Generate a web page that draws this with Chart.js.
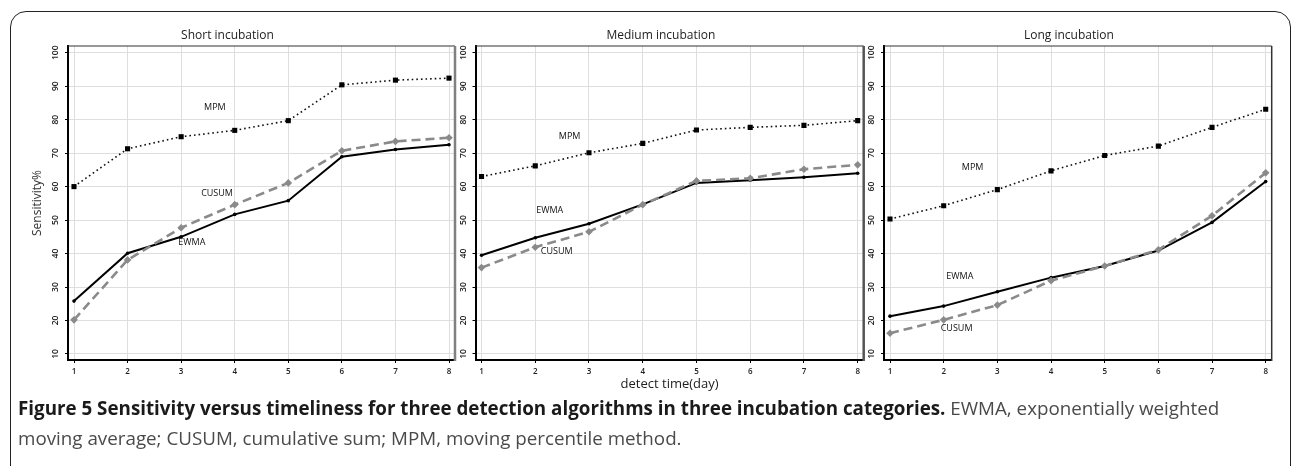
<!DOCTYPE html>
<html><head><meta charset="utf-8">
<script src="https://cdn.jsdelivr.net/npm/chart.js@4.4.1/dist/chart.umd.min.js"></script>
<style>
html,body{margin:0;padding:0;background:#fff;width:1292px;height:466px;overflow:hidden;position:relative;font-family:"Open Sans",sans-serif;}
#frame{position:absolute;left:10px;top:11px;width:1281px;height:520px;border:1.5px solid #222;border-radius:16px;box-sizing:border-box;}
canvas{position:absolute;top:0;}
#caption{position:absolute;left:18px;top:393px;font-size:18.8px;line-height:30px;color:#4a4a4a;white-space:nowrap;}
#caption b{color:#1a1a1a;font-weight:700;}
</style></head><body>
<div id="frame"></div>
<canvas id="c1" width="460" height="400" style="left:0px"></canvas>
<canvas id="c2" width="410" height="400" style="left:458px"></canvas>
<canvas id="c3" width="412" height="400" style="left:866px"></canvas>
<div id="caption"><b>Figure 5 Sensitivity versus timeliness for three detection algorithms in three incubation categories.</b> EWMA, exponentially weighted<br>moving average; CUSUM, cumulative sum; MPM, moving percentile method.</div>
<script>
// ---- data ----
const days = [1, 2, 3, 4, 5, 6, 7, 8];
const yTickValues = [10, 20, 30, 40, 50, 60, 70, 80, 90, 100];
const panelTitles = ['Short incubation', 'Medium incubation', 'Long incubation'];
const seriesNames = ['MPM', 'CUSUM', 'EWMA'];

const shortMPM   = [60.0, 71.3, 74.9, 76.8, 79.7, 90.4, 91.8, 92.4];
const shortCUSUM = [20.2, 38.1, 47.7, 54.6, 61.1, 70.7, 73.5, 74.6];
const shortEWMA  = [25.8, 40.1, 45.0, 51.7, 55.8, 68.9, 71.1, 72.5];

const mediumMPM   = [63.0, 66.2, 70.1, 72.9, 76.9, 77.7, 78.3, 79.7];
const mediumCUSUM = [35.8, 41.9, 46.5, 54.6, 61.7, 62.5, 65.2, 66.5];
const mediumEWMA  = [39.5, 44.7, 48.9, 54.7, 61.1, 61.9, 62.8, 64.0];

const longMPM   = [50.3, 54.3, 59.1, 64.7, 69.3, 72.1, 77.7, 83.1];
const longCUSUM = [16.2, 20.2, 24.6, 31.9, 36.3, 41.1, 51.3, 64.1];
const longEWMA  = [21.3, 24.3, 28.6, 32.8, 36.3, 40.9, 49.3, 61.5];

// in-plot series labels, anchored at (day, sensitivity) values
const shortLabelAnchors  = [[3.63, 83.5], [3.67, 58.1], [3.20, 43.2]];
const mediumLabelAnchors = [[2.64, 74.9], [2.40, 40.5], [2.27, 53.0]];
const longLabelAnchors   = [[2.54, 65.6], [2.24, 17.5], [2.30, 33.3]];

// ---- rendering ----
const FONT = '"Open Sans", sans-serif';
const styles = [
  {borderColor:'#111', borderWidth:1.6, borderDash:[1.6,3], pointStyle:'rect', pointRadius:3.6, pointBackgroundColor:'#000', pointBorderColor:'#000', pointBorderWidth:0},
  {borderColor:'#8a8a8a', borderWidth:2.6, borderDash:[9,5], pointStyle:'rectRot', pointRadius:3.8, pointBackgroundColor:'#8a8a8a', pointBorderColor:'#8a8a8a', pointBorderWidth:0},
  {borderColor:'#000', borderWidth:2, borderDash:[], pointStyle:'circle', pointRadius:1.8, pointBackgroundColor:'#000', pointBorderColor:'#000', pointBorderWidth:0}
];

const extrasPlugin = {
  id: 'extras',
  beforeDatasetsDraw(chart, args, o) {
    const ctx = chart.ctx, a = chart.chartArea;
    ctx.save();
    ctx.strokeStyle = '#333'; ctx.lineWidth = 1.2;
    ctx.beginPath(); ctx.moveTo(a.left, a.top); ctx.lineTo(a.right, a.top); ctx.stroke();
    ctx.strokeStyle = o.rightColor; ctx.lineWidth = o.rightWidth;
    ctx.beginPath(); ctx.moveTo(a.right, a.top); ctx.lineTo(a.right, a.bottom + 1); ctx.stroke();
    ctx.restore();
  },
  afterDraw(chart, args, o) {
    const ctx = chart.ctx, a = chart.chartArea, ys = chart.scales.y, xs = chart.scales.x;
    ctx.save();
    // rotated y tick labels
    ctx.fillStyle = '#222';
    ctx.font = '600 8.5px ' + FONT;
    ctx.textAlign = 'center'; ctx.textBaseline = 'middle';
    yTickValues.forEach(v => {
      const py = ys.getPixelForValue(v);
      ctx.save(); ctx.translate(a.left - 12, py); ctx.rotate(-Math.PI / 2);
      ctx.fillText(String(v), 0, 0); ctx.restore();
    });
    // series labels
    ctx.font = '9px ' + FONT; ctx.fillStyle = '#111';
    o.anchors.forEach((p, i) => {
      ctx.fillText(seriesNames[i], xs.getPixelForValue(p[0]), ys.getPixelForValue(p[1]));
    });
    ctx.restore();
  }
};

function makePanel(id, idx, mpm, cusum, ewma, anchors, yWidth, padRight, showYTitle, showXTitle, rightColor, rightWidth) {
  const series = [mpm, cusum, ewma];
  const datasets = series.map((vals, i) => Object.assign({
    label: seriesNames[i],
    data: days.map((d, j) => ({x: d, y: vals[j]})),
    fill: false, tension: 0, pointHoverRadius: 0
  }, styles[i]));
  const ordered = [datasets[1], datasets[2], datasets[0]];
  return new Chart(document.getElementById(id), {
    type: 'line',
    data: {datasets: ordered},
    plugins: [extrasPlugin],
    options: {
      responsive: false, animation: false, devicePixelRatio: 1,
      layout: {padding: {left: 0, right: padRight, top: 0, bottom: 0}},
      plugins: {
        legend: {display: false}, tooltip: {enabled: false},
        title: {display: true, text: panelTitles[idx], color: '#222', font: {family: FONT, size: 12, weight: 'normal'}, padding: {top: 28.8, bottom: 2.8}},
        extras: {anchors: anchors, rightColor: rightColor, rightWidth: rightWidth}
      },
      scales: {
        x: {
          type: 'linear', min: 0.888, max: 8.112,
          ticks: {stepSize: 1, includeBounds: false, color: '#222', font: {family: FONT, size: 8, weight: '600'}, padding: 3.5, maxRotation: 0},
          grid: {color: '#dedede', lineWidth: 1, tickLength: 3, tickColor: '#000', drawTicks: true},
          border: {display: true, color: '#000', width: 2},
          title: {display: showXTitle, text: 'detect time(day)', color: '#222', font: {family: FONT, size: 13}, padding: {top: 0, bottom: 8.2}},
          afterFit: s => { s.height = 40; }
        },
        y: {
          type: 'linear', min: 8.2, max: 102,
          ticks: {stepSize: 10, includeBounds: false, display: false},
          grid: {color: '#dedede', lineWidth: 1, tickLength: 3, tickColor: '#000', drawTicks: true},
          border: {display: true, color: '#000', width: 2},
          title: {display: showYTitle, text: 'Sensitivity%', color: '#333', font: {family: FONT, size: 12}, padding: {top: 30, bottom: 0}},
          afterFit: s => { s.width = yWidth; }
        }
      }
    }
  });
}

makePanel('c1', 0, shortMPM, shortCUSUM, shortEWMA, shortLabelAnchors, 68, 5, true, false, '#808080', 2.5);
makePanel('c2', 1, mediumMPM, mediumCUSUM, mediumEWMA, mediumLabelAnchors, 17.5, 4.3, false, true, '#555', 2.5);
makePanel('c3', 2, longMPM, longCUSUM, longEWMA, longLabelAnchors, 18, 6.3, false, false, '#333', 1.5);
</script>
</body></html>
